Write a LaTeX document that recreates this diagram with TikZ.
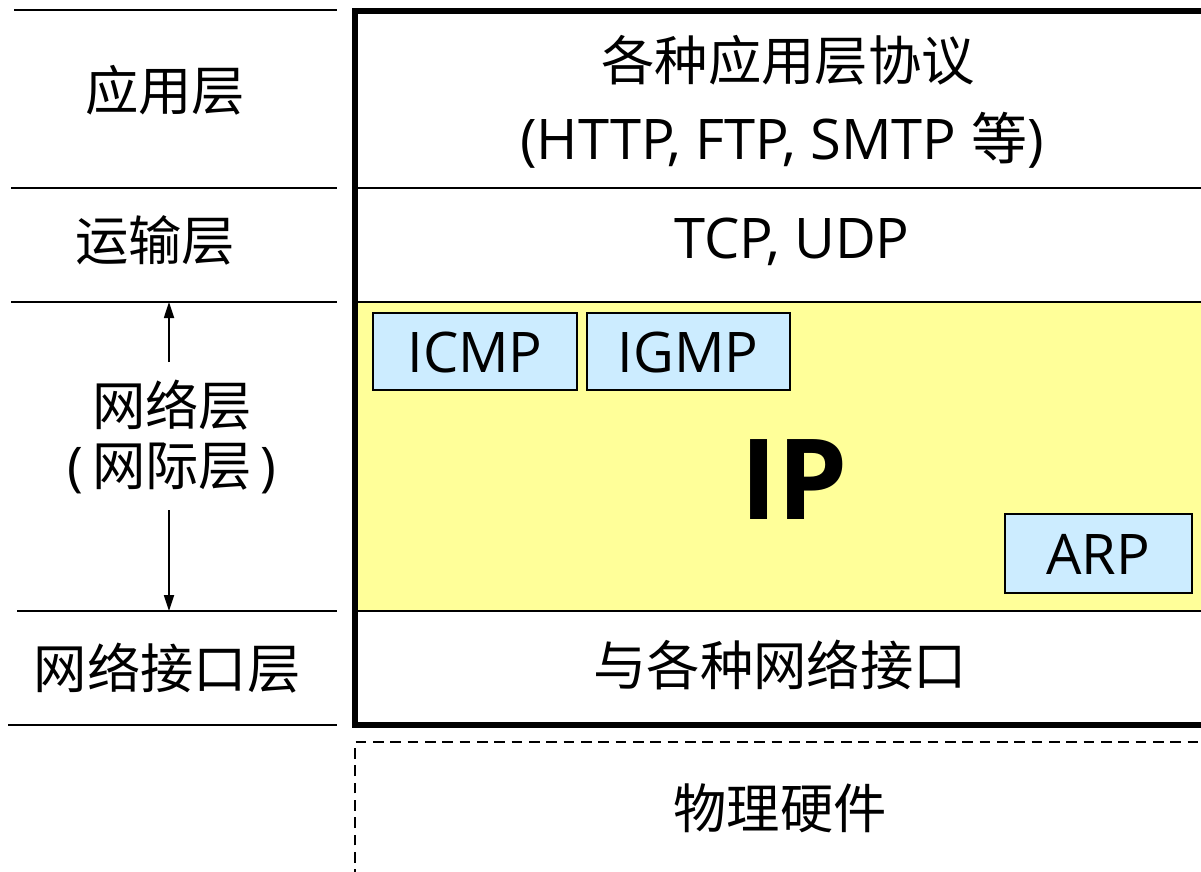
\documentclass[tikz,border=0pt]{standalone}
\usepackage{fontspec}
\setmainfont{Open Sans}
\newfontfamily\cjk{Noto Sans CJK SC}
\usetikzlibrary{arrows.meta}
\definecolor{ipyellow}{HTML}{FFFF99}
\definecolor{protoblue}{HTML}{CCECFF}
\tikzset{
  thin line/.style={line width=1.5pt},
  cjktext/.style={inner sep=0pt, font=\cjk\fontsize{40}{48}\selectfont},
  lattext/.style={inner sep=0pt, font=\fontsize{42}{50}\selectfont},
  protobox/.style={draw, line width=1.2pt, fill=protoblue},
  updown/.style={line width=1.3pt, -{Stealth[length=12pt,width=7.5pt,inset=0pt]}},
}
\begin{document}
\begin{tikzpicture}[x=0.75pt,y=-0.75pt]
\useasboundingbox (0,0) rectangle (1201,871);
% yellow IP region
\fill[ipyellow] (357,302) rectangle (1203,611);
% right side separators
\draw[thin line] (355,188) -- (1203,188);
\draw[thin line] (355,302) -- (1203,302);
\draw[thin line] (355,611) -- (1203,611);
% main thick frame
\draw[line width=4pt] (1210,11) -- (355,11) -- (355,725) -- (1210,725);
% dashed physical box
\draw[line width=1.2pt, dash pattern=on 8pt off 5pt] (355,880) -- (355,742) -- (1210,742);
% left separators
\draw[thin line] (14,10) -- (337,10);
\draw[thin line] (11,188) -- (337,188);
\draw[thin line] (11,302) -- (337,302);
\draw[thin line] (17,611) -- (337,611);
\draw[thin line] (8,725) -- (337,725);
\coordinate (nettop) at (169,302);
\coordinate (netbot) at (169,611);
% protocol boxes
\draw[protobox] (373,313) rectangle (577,390);
\node[lattext] (icmp) at (475,352) {ICMP};
\draw[protobox] (587,313) rectangle (790,390);
\node[lattext] (igmp) at (688,352) {IGMP};
\draw[protobox] (1005,514) rectangle (1192,593);
\node[lattext] (arp) at (1098,554) {ARP};
\node[inner sep=0pt, font=\bfseries\fontsize{84}{90}\selectfont] (ip) at (794,480) {IP};
% right texts
\node[cjktext] (app) at (788,60) {各种应用层协议};
\node[lattext] (apps) at (782,140) {(HTTP, FTP, SMTP {\cjk 等})};
\node[lattext] (tcp) at (792,242) {TCP, UDP};
\node[cjktext] (ifc) at (780,665) {与各种网络接口};
\node[cjktext] (phy) at (780,808) {物理硬件};
% left texts
\node[cjktext] (lapp) at (165,90) {应用层};
\node[cjktext] (ltrans) at (155,240) {运输层};
\node[cjktext] (lnet) at (172,405) {网络层};
\node[cjktext] (lnet2) at (172,468) {{\fontspec{Open Sans}(\,}网际层{\fontspec{Open Sans}\,)}};
\node[cjktext] (lifc) at (167,668) {网络接口层};
% arrows
\coordinate (aup) at (169,362);
\coordinate (adown) at (169,510);
\draw[updown] (aup) -- (nettop);
\draw[updown] (adown) -- (netbot);
\end{tikzpicture}
\end{document}
